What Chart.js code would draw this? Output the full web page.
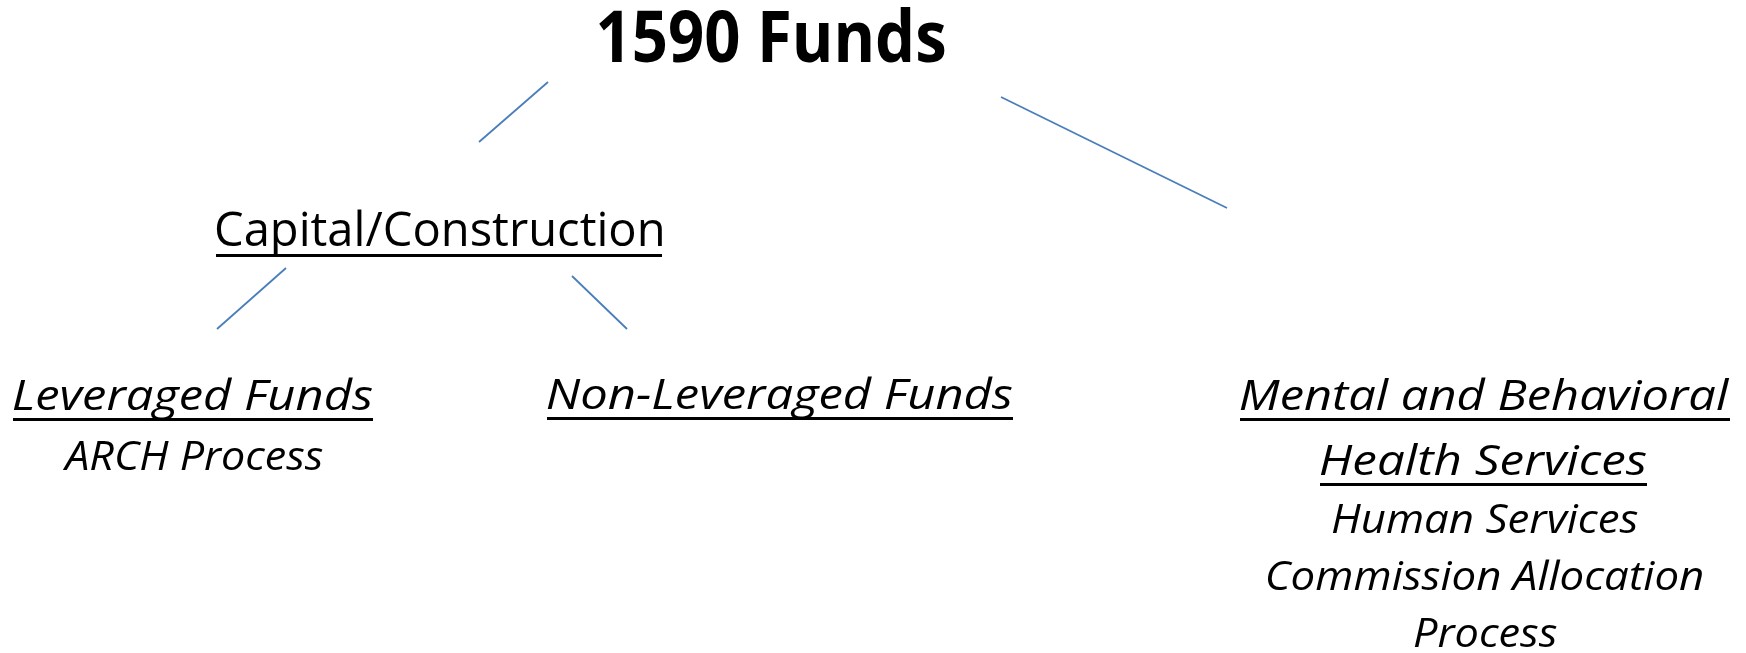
<!DOCTYPE html>
<html>
<head>
<meta charset="utf-8">
<title>1590 Funds</title>
<script src="https://cdn.jsdelivr.net/npm/chart.js@4.4.1/dist/chart.umd.min.js"></script>
<style>
  html, body { margin: 0; padding: 0; background: #fff; }
  #tree { display: block; }
</style>
</head>
<body>
<canvas id="tree" width="1746" height="653"></canvas>
<script>
// Tree nodes (x: left→right, y: top→bottom, same units as the image)
const nodeText = [
  '1590 Funds',
  'Capital/Construction',
  'Leveraged Funds',
  'ARCH Process',
  'Non-Leveraged Funds',
  'Mental and Behavioral',
  'Health Services',
  'Human Services',
  'Commission Allocation',
  'Process',
];
const nodeLeft     = [599, 216, 13, 62, 547, 1240, 1320, 1332, 1267, 1414];
const nodeRight    = [945, 662, 373, 323, 1013, 1730, 1647, 1638, 1703, 1557];
const nodeBaseline = [62, 246, 410, 470, 409, 410, 475, 533, 590, 647];
const nodeKind     = ['title', 'branch', 'heading', 'sub', 'heading', 'heading', 'heading', 'sub', 'sub', 'sub'];

// Connector lines between levels
const linkStartX = [548, 1001, 286, 572];
const linkStartY = [82, 97, 268, 276];
const linkEndX   = [479, 1227, 217, 627];
const linkEndY   = [142, 208, 329, 329];

const FONT = '"Open Sans", "Noto Sans", Lato, sans-serif';
const LINK_COLOR = '#4A7EBB';

// per-kind text look (cap height in px, underline or not)
const KIND_STYLE = {
  title:   { weight: 'bold', style: 'normal', cap: 52, underline: false },
  branch:  { weight: '500',  style: 'normal', cap: 34, underline: true },
  heading: { weight: '500',  style: 'italic', cap: 30, underline: true },
  sub:     { weight: '500',  style: 'italic', cap: 29, underline: false },
};

// Draws the node captions, stretched so the ink spans the same extent as the picture
const nodeLabels = {
  id: 'nodeLabels',
  afterDatasetsDraw(chart) {
    const { ctx, scales: { x, y } } = chart;
    ctx.save();
    ctx.fillStyle = '#000';
    ctx.textAlign = 'left';
    ctx.textBaseline = 'alphabetic';
    nodeText.forEach((text, i) => {
      const k = KIND_STYLE[nodeKind[i]];
      ctx.font = `${k.style} ${k.weight} 100px ${FONT}`;
      const capAt100 = ctx.measureText('H').actualBoundingBoxAscent || 71;
      const size = k.cap * 100 / capAt100;
      ctx.font = `${k.style} ${k.weight} ${size}px ${FONT}`;
      const m = ctx.measureText(text);
      const inkW = m.actualBoundingBoxLeft + m.actualBoundingBoxRight;
      const left = x.getPixelForValue(nodeLeft[i]);
      const right = x.getPixelForValue(nodeRight[i]);
      const base = y.getPixelForValue(nodeBaseline[i]);
      const sx = (right - left) / inkW;
      ctx.save();
      ctx.translate(left, base);
      ctx.scale(sx, 1);
      ctx.fillText(text, m.actualBoundingBoxLeft, 0);
      ctx.restore();
      if (k.underline) {
        ctx.fillRect(left, base + 8, right - left, 3);
      }
    });
    ctx.restore();
  },
};

const datasets = linkStartX.map((_, i) => ({
  data: [
    { x: linkStartX[i], y: linkStartY[i] },
    { x: linkEndX[i], y: linkEndY[i] },
  ],
  showLine: true,
  borderColor: LINK_COLOR,
  borderWidth: 1.8,
  pointRadius: 0,
  fill: false,
}));

new Chart(document.getElementById('tree'), {
  type: 'scatter',
  data: { datasets },
  options: {
    responsive: false,
    animation: false,
    layout: { padding: 0 },
    plugins: { legend: { display: false }, tooltip: { enabled: false } },
    scales: {
      x: { type: 'linear', min: 0, max: 1746, display: false },
      y: { type: 'linear', min: 0, max: 653, reverse: true, display: false },
    },
  },
  plugins: [nodeLabels],
});
</script>
</body>
</html>
